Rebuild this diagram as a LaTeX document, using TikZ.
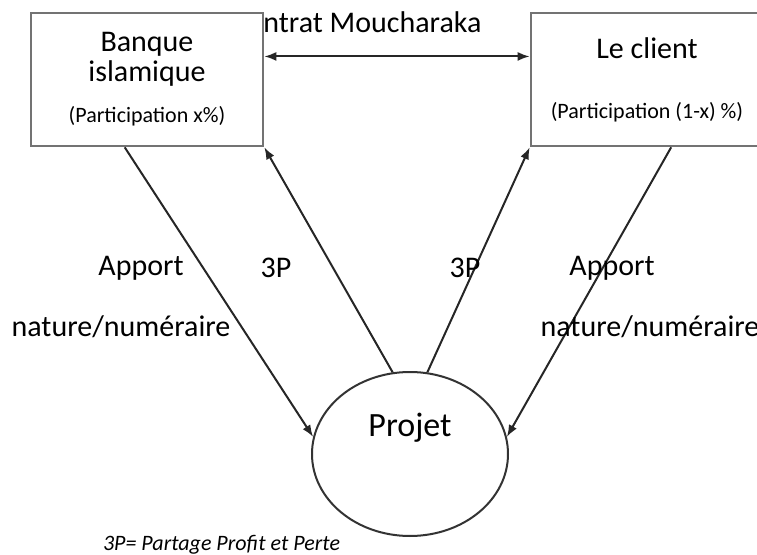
\documentclass[tikz,border=0pt]{standalone}
\usepackage{fontspec}
\setmainfont{Carlito}
\usetikzlibrary{shapes.geometric}
\usetikzlibrary{calc}
\usetikzlibrary{arrows.meta}
\tikzset{every picture/.style={line width=1pt,x=0.5pt,y=0.5pt},
partbox/.style={draw=black!55,line width=1.3pt,fill=white,minimum width=116pt,minimum height=66.5pt,align=center,inner sep=0pt,font=\fontsize{15}{15}\selectfont},
txt/.style={font=\fontsize{15}{15}\selectfont,inner sep=0pt},
tip/.style={>={Latex[length=6pt,width=4.5pt]}},
flow/.style={tip,->,draw=black!85}}
\newcommand{\partfont}{\fontsize{11}{13}\selectfont}

\begin{document}
\begin{tikzpicture}
\useasboundingbox (0,0) rectangle (757,554);
% contract between the two partners
\node (contrat) at (356.5,532) [txt] {Contrat Moucharaka};
\node (banque) at (147,474.5) [partbox] {Banque\\islamique\\[5.5pt]{\partfont (Participation x\%)}};
\node (client) at (647,474.5) [partbox] {Le client\\[15pt]{\partfont (Participation (1-x) \%)}};
\node (projet) at (410,100) [ellipse,draw=black!80,minimum width=98pt,minimum height=82pt] {};
\node (projettxt) at (410,126) [font=\fontsize{17}{17}\selectfont] {Projet};
\coordinate (bq) at ($(banque.north east)!0.33!(banque.south east)$);
\draw[tip,<->,draw=black!85] (bq) -- (bq -| client.west);
% flows to and from the project
\coordinate (bqs) at ($(banque.south west)!0.405!(banque.south east)$);
\coordinate (cls) at ($(client.south west)!0.603!(client.south east)$);
\draw[flow] (bqs) -- (projet.170);
\draw[flow] (projet.102) -- (banque.south east);
\draw[flow] (projet.78) -- (client.south west);
\draw[flow] (cls) -- (projet.10);
\node (apg) at (141,286) [txt] {Apport};
\node (natg) at (121,227) [txt] {nature/numéraire};
\node (ppg) at (276,286) [txt] {3P};
\node (ppd) at (465,286) [txt] {3P};
\node (apd) at (612,286) [txt] {Apport};
\node (natd) at (650,227) [txt] {nature/numéraire};
\node (legende) at (221.5,9) [font=\partfont\itshape] {3P= Partage Profit et Perte};
\end{tikzpicture}
\end{document}
